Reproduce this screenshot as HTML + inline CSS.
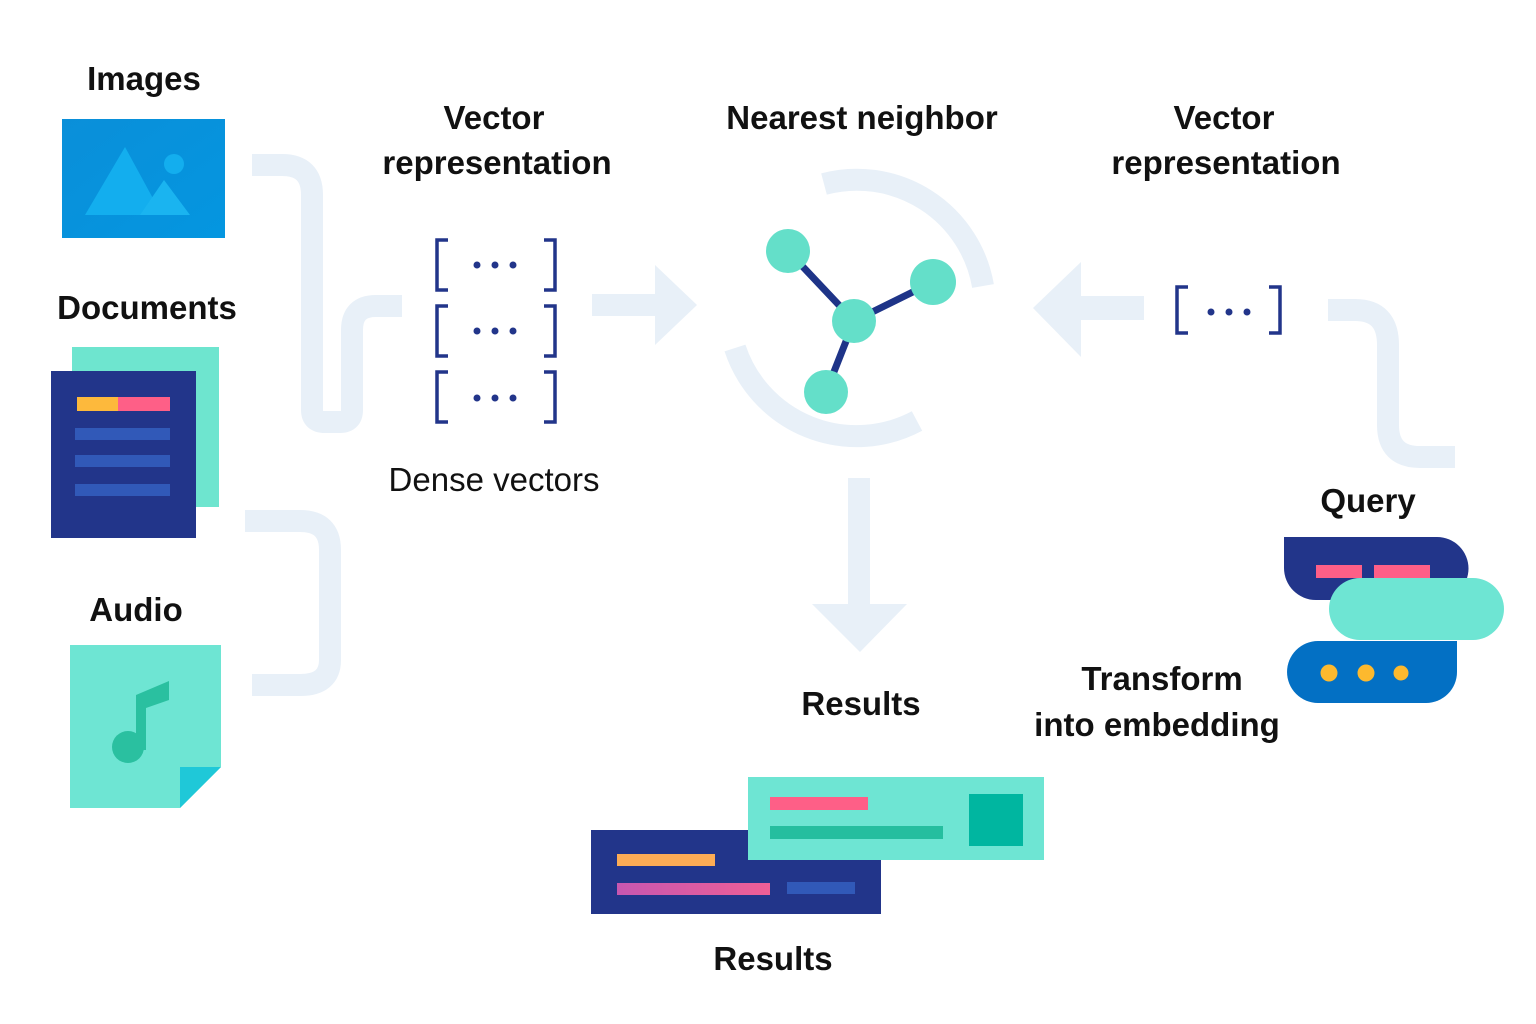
<!DOCTYPE html>
<html><head><meta charset="utf-8"><style>
html,body{margin:0;padding:0;background:#fff;}
svg{display:block}
text{font-family:"Liberation Sans",sans-serif;fill:#111;}
.b{font-weight:bold;font-size:33px;}
</style></head><body>
<svg width="1536" height="1024" viewBox="0 0 1536 1024">
<defs>
<linearGradient id="ig" x1="0" y1="0" x2="1" y2="1"><stop offset="0" stop-color="#0a8fd9"/><stop offset="1" stop-color="#0496e0"/></linearGradient>
<linearGradient id="pk" x1="0" x2="1"><stop offset="0" stop-color="#c757b0"/><stop offset="1" stop-color="#ee5f96"/></linearGradient>
</defs>
<g fill="none" stroke="#e8f0f8" stroke-width="22">
<path d="M252,165 H282 Q312,165 312,195 V410 Q312,422 325,422 H340 Q352,422 352,410 V330 Q352,306 376,306 H402"/>
<path d="M245,521 H300 Q330,521 330,550 V660 Q330,685 300,685 H252"/>
<path d="M1328,310 H1355 Q1388,310 1388,345 V425 Q1388,457 1420,457 H1455"/>
<path d="M824,184 A128,128 0 0 1 983,286"/>
<path d="M735,348 A128,128 0 0 0 917,421"/>
</g>
<g fill="#e8f0f8">
<rect x="592" y="294" width="64" height="22"/>
<polygon points="655,265 697,305 655,345"/>
<rect x="1080" y="296" width="64" height="24"/>
<polygon points="1081,262 1033,308 1081,357"/>
<rect x="848" y="478" width="22" height="128"/>
<polygon points="812,604 907,604 860,652"/>
</g>
<!-- images -->
<rect x="62" y="119" width="163" height="119" fill="url(#ig)"/>
<polygon points="85,215 125,147 162,215" fill="#13aeee"/>
<polygon points="140,215 164,180 190,215" fill="#1ab4f0"/>
<circle cx="174" cy="164" r="10" fill="#13aeee"/>
<!-- documents -->
<rect x="72" y="347" width="147" height="160" fill="#6ee5cf"/>
<rect x="51" y="371" width="145" height="167" fill="#22358a"/>
<rect x="77" y="397" width="41" height="14" fill="#fdb93c"/>
<rect x="118" y="397" width="52" height="14" fill="#fe5f87"/>
<rect x="75" y="428" width="95" height="12" fill="#3159b8"/>
<rect x="75" y="455" width="95" height="12" fill="#3159b8"/>
<rect x="75" y="484" width="95" height="12" fill="#3159b8"/>
<!-- audio -->
<polygon points="70,645 221,645 221,767 180,808 70,808" fill="#6ee5d3"/>
<polygon points="180,808 221,767 180,767" fill="#1fc8d8"/>
<circle cx="128" cy="747" r="16" fill="#2ac0a0"/>
<rect x="136" y="695" width="10" height="55" fill="#2ac0a0"/>
<polygon points="136,695 169,681 169,700 146,708" fill="#2ac0a0"/>
<!-- brackets -->
<g fill="none" stroke="#22358a" stroke-width="3.5">
<path d="M448,240 H437 V290 H448"/><path d="M544,240 H555 V290 H544"/>
<path d="M448,306 H437 V356 H448"/><path d="M544,306 H555 V356 H544"/>
<path d="M448,372 H437 V422 H448"/><path d="M544,372 H555 V422 H544"/>
<path d="M1188,287 H1177 V333 H1188"/><path d="M1269,287 H1280 V333 H1269"/>
</g>
<g fill="#22358a">
<circle cx="477" cy="265" r="3.5"/><circle cx="495" cy="265" r="3.5"/><circle cx="513" cy="265" r="3.5"/>
<circle cx="477" cy="331" r="3.5"/><circle cx="495" cy="331" r="3.5"/><circle cx="513" cy="331" r="3.5"/>
<circle cx="477" cy="398" r="3.5"/><circle cx="495" cy="398" r="3.5"/><circle cx="513" cy="398" r="3.5"/>
<circle cx="1211" cy="312" r="3.5"/><circle cx="1229" cy="312" r="3.5"/><circle cx="1247" cy="312" r="3.5"/>
</g>
<!-- network -->
<g stroke="#1e3488" stroke-width="7">
<line x1="788" y1="251" x2="854" y2="321"/><line x1="933" y1="282" x2="854" y2="321"/><line x1="826" y1="392" x2="854" y2="321"/>
</g>
<g fill="#64dfc9">
<circle cx="788" cy="251" r="22"/><circle cx="933" cy="282" r="23"/><circle cx="854" cy="321" r="22"/><circle cx="826" cy="392" r="22"/>
</g>
<!-- query -->
<path d="M1284,537 H1437 A31.5,31.5 0 0 1 1437,600 H1316 A32,32 0 0 1 1284,568 Z" fill="#22358a"/>
<rect x="1316" y="565" width="46" height="13" fill="#fe5f87"/>
<rect x="1374" y="565" width="56" height="13" fill="#fe5f87"/>
<rect x="1329" y="578" width="175" height="62" rx="31" fill="#6ee5d3"/>
<path d="M1318,641 H1457 V672 A31,31 0 0 1 1426,703 H1318 A31,31 0 0 1 1318,641 Z" fill="#0370c4"/>
<circle cx="1329" cy="673" r="8.5" fill="#fdb92e"/><circle cx="1366" cy="673" r="8.5" fill="#fdb92e"/><circle cx="1401" cy="673" r="7.5" fill="#fdb92e"/>
<!-- results -->
<rect x="591" y="830" width="290" height="84" fill="#22358a"/>
<rect x="617" y="854" width="98" height="12" fill="#fdac55"/>
<rect x="617" y="883" width="153" height="12" fill="url(#pk)"/>
<rect x="787" y="882" width="68" height="12" fill="#3159b8"/>
<rect x="748" y="777" width="296" height="83" fill="#6ee5d3"/>
<rect x="770" y="797" width="98" height="13" fill="#fe5f87"/>
<rect x="770" y="826" width="173" height="13" fill="#25be9f"/>
<rect x="969" y="794" width="54" height="52" fill="#00b6a0"/>
<!-- text -->
<text class="b" x="144" y="90" text-anchor="middle">Images</text>
<text class="b" x="147" y="319" text-anchor="middle">Documents</text>
<text class="b" x="136" y="621" text-anchor="middle">Audio</text>
<text class="b" x="494" y="129" text-anchor="middle">Vector</text>
<text class="b" x="497" y="174" text-anchor="middle">representation</text>
<text x="494" y="491" text-anchor="middle" font-size="33">Dense vectors</text>
<text class="b" x="862" y="129" text-anchor="middle">Nearest neighbor</text>
<text class="b" x="1224" y="129" text-anchor="middle">Vector</text>
<text class="b" x="1226" y="174" text-anchor="middle">representation</text>
<text class="b" x="1368" y="512" text-anchor="middle">Query</text>
<text class="b" x="1162" y="690" text-anchor="middle">Transform</text>
<text class="b" x="1157" y="736" text-anchor="middle">into embedding</text>
<text class="b" x="861" y="715" text-anchor="middle">Results</text>
<text class="b" x="773" y="970" text-anchor="middle">Results</text>
</svg>
</body></html>
